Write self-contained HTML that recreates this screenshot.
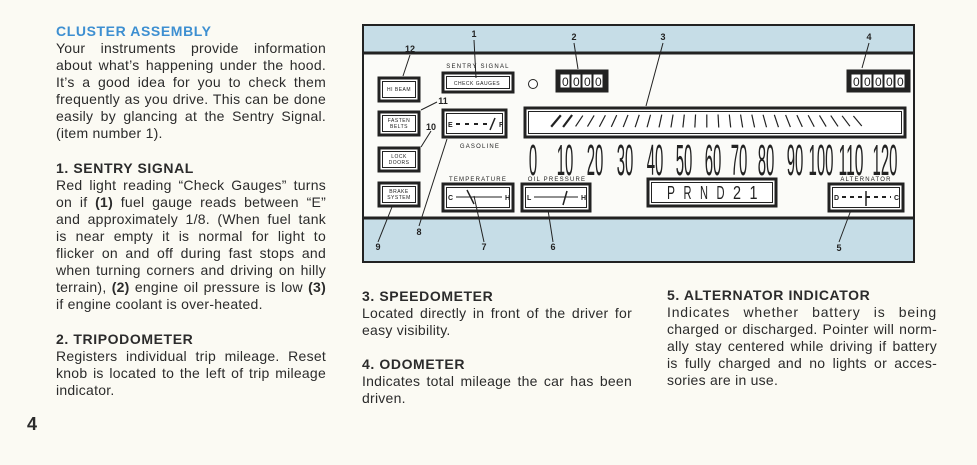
<!DOCTYPE html>
<html><head><meta charset="utf-8"><style>
html,body{margin:0;padding:0}
body{width:977px;height:465px;background:#fbfaf3;position:relative;overflow:hidden;font-family:"Liberation Sans",Arial,sans-serif;color:#2b2b2b}
.l{position:absolute;font-size:14px;letter-spacing:0.25px;line-height:17px;white-space:nowrap;text-align:justify;text-align-last:justify}
.ll{text-align-last:left}
.h{position:absolute;font-size:14px;font-weight:bold;letter-spacing:0.6px;white-space:nowrap}
svg{position:absolute;left:0;top:0}
</style></head><body>
<div class="h" style="left:56px;top:23px;color:#3d8fd1">CLUSTER ASSEMBLY</div>
<div class="l" style="left:56px;top:40px;width:270px">Your instruments provide information</div>
<div class="l" style="left:56px;top:57px;width:270px">about what’s happening under the hood.</div>
<div class="l" style="left:56px;top:74px;width:270px">It’s a good idea for you to check them</div>
<div class="l" style="left:56px;top:91px;width:270px">frequently as you drive. This can be done</div>
<div class="l" style="left:56px;top:108px;width:270px">easily by glancing at the Sentry Signal.</div>
<div class="l ll" style="left:56px;top:125px;width:270px">(item number 1).</div>

<div class="h" style="left:56px;top:160px">1. SENTRY SIGNAL</div>
<div class="l" style="left:56px;top:177px;width:270px">Red light reading “Check Gauges” turns</div>
<div class="l" style="left:56px;top:194px;width:270px">on if <b>(1)</b> fuel gauge reads between “E”</div>
<div class="l" style="left:56px;top:211px;width:270px">and approximately 1/8. (When fuel tank</div>
<div class="l" style="left:56px;top:228px;width:270px">is near empty it is normal for light to</div>
<div class="l" style="left:56px;top:245px;width:270px">flicker on and off during fast stops and</div>
<div class="l" style="left:56px;top:262px;width:270px">when turning corners and driving on hilly</div>
<div class="l" style="left:56px;top:279px;width:270px">terrain), <b>(2)</b> engine oil pressure is low <b>(3)</b></div>
<div class="l ll" style="left:56px;top:296px;width:270px">if engine coolant is over-heated.</div>

<div class="h" style="left:56px;top:331px">2. TRIPODOMETER</div>
<div class="l" style="left:56px;top:348px;width:270px">Registers individual trip mileage. Reset</div>
<div class="l" style="left:56px;top:365px;width:270px">knob is located to the left of trip mileage</div>
<div class="l ll" style="left:56px;top:382px;width:270px">indicator.</div>

<div class="h" style="left:27px;top:414px;font-size:18px">4</div>

<div class="h" style="left:362px;top:288px">3. SPEEDOMETER</div>
<div class="l" style="left:362px;top:305px;width:270px">Located directly in front of the driver for</div>
<div class="l ll" style="left:362px;top:322px;width:270px">easy visibility.</div>
<div class="h" style="left:362px;top:356px">4. ODOMETER</div>
<div class="l" style="left:362px;top:373px;width:270px">Indicates total mileage the car has been</div>
<div class="l ll" style="left:362px;top:390px;width:270px">driven.</div>

<div class="h" style="left:667px;top:287px">5. ALTERNATOR INDICATOR</div>
<div class="l" style="left:667px;top:304px;width:270px;letter-spacing:0.8px">Indicates whether battery is being</div>
<div class="l" style="left:667px;top:321px;width:270px">charged or discharged. Pointer will norm-</div>
<div class="l" style="left:667px;top:338px;width:270px">ally stay centered while driving if battery</div>
<div class="l" style="left:667px;top:355px;width:270px">is fully charged and no lights or acces-</div>
<div class="l ll" style="left:667px;top:372px;width:270px">sories are in use.</div>

<svg width="977" height="465" viewBox="0 0 977 465" font-family="Liberation Sans, sans-serif">
<rect x="363" y="25" width="551" height="237" fill="#c6dde7" stroke="#222" stroke-width="2"/>
<rect x="364" y="53" width="549" height="165" fill="#fbfbf8"/>
<line x1="363" y1="53" x2="914" y2="53" stroke="#222" stroke-width="3"/>
<line x1="363" y1="218" x2="914" y2="218" stroke="#222" stroke-width="3"/>
<g id="boxes" fill="#fff" stroke="#222"></g>
<g fill="#222" font-weight="bold" font-size="9" text-anchor="middle">
<text x="410" y="52">12</text><text x="474" y="37">1</text><text x="574" y="40">2</text><text x="663" y="40">3</text><text x="869" y="40">4</text>
<text x="443" y="104">11</text><text x="431" y="130">10</text>
<text x="378" y="250">9</text><text x="419" y="235">8</text><text x="484" y="250">7</text><text x="553" y="250">6</text><text x="839" y="251">5</text>
</g>
<g stroke="#222" stroke-width="1" fill="none">
<line x1="410" y1="55" x2="403" y2="76"/><line x1="474" y1="40" x2="476" y2="78"/>
<line x1="574" y1="43" x2="578" y2="69"/><line x1="663" y1="43" x2="646" y2="106"/>
<line x1="869" y1="43" x2="862" y2="68"/><line x1="437" y1="102" x2="421" y2="110"/>
<line x1="431" y1="131" x2="421" y2="147"/><line x1="378" y1="242" x2="392" y2="207"/>
<line x1="419" y1="226" x2="447" y2="139"/><line x1="484" y1="242" x2="474" y2="196"/>
<line x1="553" y1="242" x2="548" y2="210"/><line x1="839" y1="242" x2="851" y2="210"/>
</g>
<circle cx="533" cy="84" r="4.5" fill="#fff" stroke="#222" stroke-width="1"/>
<g font-size="5" fill="#222" text-anchor="middle" letter-spacing="0.5">
<text x="399" y="91">HI BEAM</text>
<text x="399" y="122">FASTEN</text><text x="399" y="128">BELTS</text>
<text x="399" y="158">LOCK</text><text x="399" y="164">DOORS</text>
<text x="399" y="193">BRAKE</text><text x="399" y="199">SYSTEM</text>
<text x="477" y="85">CHECK GAUGES</text>
</g>
<g font-size="6" fill="#222" text-anchor="middle" letter-spacing="1.2">
<text x="478" y="68">SENTRY SIGNAL</text><text x="480" y="148">GASOLINE</text>
<text x="478" y="181">TEMPERATURE</text><text x="557" y="181">OIL PRESSURE</text>
<text x="866" y="181">ALTERNATOR</text>
</g>
<g id="prnd" font-size="18" fill="#222"></g>
<g font-size="44" fill="#222" id="nums"></g>
<g id="ticks" stroke="#222" stroke-width="1.3"></g>
<g id="gauge" stroke="#222" fill="#222" font-size="7" font-weight="bold"></g>
</svg>
<script>
var NS="http://www.w3.org/2000/svg";
function el(p,t,a,txt){var e=document.createElementNS(NS,t);for(var k in a)e.setAttribute(k,a[k]);if(txt)e.textContent=txt;document.getElementById(p).appendChild(e);return e;}
function box(x,y,w,h){el("boxes","rect",{x:x,y:y,width:w,height:h,"stroke-width":3});el("boxes","rect",{x:x+3.5,y:y+3.5,width:w-7,height:h-7,"stroke-width":1});}
box(379,78,40,23);box(379,112,40,23);box(379,148,40,23);box(379,183,40,23);
box(443,73,70,19);box(443,110,63,27);box(443,184,70,27);box(522,184,68,27);
box(648,179,128,27);box(829,184,74,27);box(525,108,380,29);
function odo(x,y,n){el("boxes","rect",{x:x,y:y,width:n*11+8,height:22,fill:"#222","stroke-width":1});
 for(var i=0;i<n;i++){el("boxes","rect",{x:x+4+i*11,y:y+4,width:10,height:14,fill:"#fff","stroke-width":1});
 el("gauge","text",{x:x+6+i*11,y:y+16,"font-size":12,"font-weight":"normal",stroke:"none"},"0");}}
odo(556,70,4);odo(847,70,5);
var pl=["P","R","N","D","2","1"];
for(var i=0;i<6;i++)el("prnd","text",{x:667+i*16.5,y:199,textLength:8,lengthAdjust:"spacingAndGlyphs"},pl[i]);
var nx=[533,565,595,625,655,684,713,739,766,795,821,851,885],nv=[0,10,20,30,40,50,60,70,80,90,100,110,120];
for(var i=0;i<13;i++){var s=String(nv[i]),w=s.length*8.3;
 el("nums","text",{x:nx[i]-w/2,y:175,textLength:w,lengthAdjust:"spacingAndGlyphs"},s);}
for(var i=0;i<27;i++){var x=556+i*11.6,a=(40-i*80/26)*Math.PI/180,L=i<2?15:13,cy=121;
 var dx=Math.sin(a)*L/2,dy=Math.cos(a)*L/2;
 el("ticks","line",{x1:x-dx,y1:cy+dy,x2:x+dx,y2:cy-dy,"stroke-width":i<2?2.2:1.2});}
el("gauge","text",{x:448,y:127,stroke:"none"},"E");el("gauge","text",{x:499,y:127,stroke:"none"},"F");
el("gauge","line",{x1:456,y1:124,x2:493,y2:124,"stroke-width":2,"stroke-dasharray":"4 5"});
el("gauge","line",{x1:490,y1:130,x2:495,y2:118,"stroke-width":1.5});
el("gauge","text",{x:448,y:200,stroke:"none"},"C");el("gauge","text",{x:505,y:200,stroke:"none"},"H");
el("gauge","line",{x1:456,y1:197,x2:502,y2:197,"stroke-width":1});
el("gauge","line",{x1:467,y1:190,x2:474,y2:204,"stroke-width":1.5});
el("gauge","text",{x:527,y:200,stroke:"none"},"L");el("gauge","text",{x:581,y:200,stroke:"none"},"H");
el("gauge","line",{x1:534,y1:197,x2:578,y2:197,"stroke-width":1});
el("gauge","line",{x1:563,y1:205,x2:567,y2:191,"stroke-width":1.5});
el("gauge","text",{x:834,y:200,stroke:"none"},"D");el("gauge","text",{x:894,y:200,stroke:"none"},"C");
el("gauge","line",{x1:842,y1:197,x2:891,y2:197,"stroke-width":2,"stroke-dasharray":"4 4"});
el("gauge","line",{x1:866,y1:191,x2:866,y2:206,"stroke-width":1.5});
</script>
</body></html>
